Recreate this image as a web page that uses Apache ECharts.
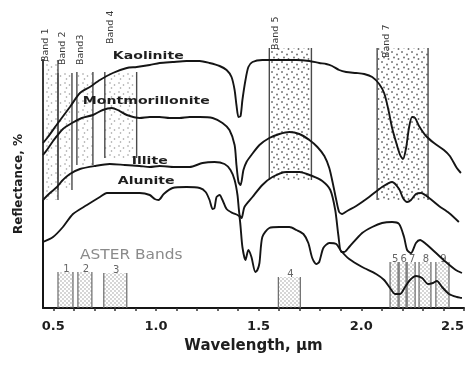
<!DOCTYPE html>
<html>
<head>
<meta charset="utf-8">
<script src="https://cdn.jsdelivr.net/npm/echarts@6/dist/echarts.min.js"></script>
<style>
  html, body { margin: 0; padding: 0; background: #fff; }
  #chart { width: 467px; height: 367px; }
</style>
</head>
<body>
<div id="chart"></div>
<script>
// Offset reflectance curves: [wavelength µm, relative reflectance]
const kaolinite = [
  [0.450,165],[0.474,171],[0.523,185],[0.581,201],[0.630,215],[0.678,221],[0.727,228],[0.790,235],
  [0.858,240],[0.906,241],[0.970,243],[1.018,245],[1.081,246],[1.149,247],[1.213,247],[1.261,245],
  [1.310,242],[1.344,238],[1.368,231],[1.383,218],[1.392,203],[1.402,191],[1.412,192],[1.421,208],
  [1.436,228],[1.450,241],[1.470,246],[1.518,248],[1.616,248],[1.684,248],[1.747,247],[1.795,245],
  [1.829,244],[1.858,242],[1.892,238],[1.926,236],[1.975,235],[2.014,234],[2.053,231],[2.087,224],
  [2.111,215],[2.130,200],[2.150,180],[2.169,166],[2.189,153],[2.203,149],[2.218,160],[2.232,180],
  [2.247,191],[2.262,190],[2.281,182],[2.315,172],[2.354,165],[2.402,158],[2.431,152],[2.465,140],
  [2.485,135]
];
const montmorillonite = [
  [0.450,153],[0.469,158],[0.499,167],[0.547,179],[0.591,185],[0.639,190],[0.693,193],[0.741,198],
  [0.785,200],[0.814,198],[0.858,193],[0.921,190],[0.970,191],[1.018,191],[1.067,190],[1.115,190],
  [1.164,191],[1.213,191],[1.276,190],[1.324,185],[1.358,178],[1.383,163],[1.392,143],[1.402,126],
  [1.412,123],[1.426,138],[1.441,146],[1.465,153],[1.504,163],[1.552,170],[1.601,174],[1.650,176],
  [1.698,174],[1.747,168],[1.786,161],[1.820,152],[1.844,140],[1.863,123],[1.878,108],[1.892,96],
  [1.907,94],[1.931,97],[1.975,102],[2.038,111],[2.101,121],[2.150,126],[2.184,119],[2.203,110],
  [2.223,106],[2.242,108],[2.266,114],[2.291,115],[2.330,110],[2.378,102],[2.427,95],[2.475,86]
];
const illite = [
  [0.450,108],[0.484,115],[0.518,121],[0.542,127],[0.581,134],[0.630,139],[0.702,142],[0.775,144],
  [0.848,143],[0.921,142],[0.970,141],[1.018,142],[1.091,141],[1.164,141],[1.227,145],[1.285,146],
  [1.334,144],[1.363,138],[1.383,128],[1.397,113],[1.407,93],[1.417,90],[1.431,101],[1.470,111],
  [1.518,123],[1.567,131],[1.635,136],[1.698,136],[1.761,132],[1.810,127],[1.849,118],[1.873,98],
  [1.888,73],[1.902,56],[1.917,56],[1.941,61],[2.004,75],[2.053,81],[2.101,85],[2.150,86],
  [2.184,84],[2.208,71],[2.223,58],[2.242,55],[2.266,65],[2.286,68],[2.315,64],[2.364,55],
  [2.412,46],[2.460,38],[2.490,35]
];
const alunite = [
  [0.450,66],[0.499,71],[0.547,81],[0.596,94],[0.664,103],[0.727,111],[0.761,115],[0.824,115],
  [0.921,115],[0.970,113],[0.994,109],[1.013,108],[1.038,114],[1.081,120],[1.149,121],[1.213,120],
  [1.242,116],[1.261,108],[1.276,99],[1.285,100],[1.295,111],[1.310,113],[1.324,108],[1.344,99],
  [1.373,95],[1.397,93],[1.407,91],[1.421,61],[1.436,48],[1.450,58],[1.465,51],[1.484,36],
  [1.494,38],[1.504,45],[1.518,71],[1.552,80],[1.601,81],[1.650,81],[1.684,78],[1.718,74],
  [1.742,65],[1.761,50],[1.781,44],[1.795,46],[1.815,60],[1.844,65],[1.878,64],[1.902,57],
  [1.941,49],[2.004,41],[2.072,34],[2.111,28],[2.140,20],[2.164,14],[2.189,14],[2.213,21],
  [2.237,28],[2.266,32],[2.296,30],[2.325,24],[2.349,25],[2.368,27],[2.393,21],[2.427,14],
  [2.465,11],[2.490,10]
];

// Curve names and where each name sits
const curveNames = ['Kaolinite', 'Montmorillonite', 'Illite', 'Alunite'];
const curveNamePos = [[0.790,252],[0.644,207],[0.882,147],[0.814,127]];

// Landsat TM bands: [start µm, end µm, top, bottom]
const tmBands = [
  [0.450,0.523,248,108],
  [0.523,0.591,235,118],
  [0.615,0.693,236,143],
  [0.751,0.906,236,150],
  [1.552,1.757,260,128],
  [2.077,2.325,260,108]
];
const tmBandNames = ['Band 1','Band 2','Band3','Band 4','Band 5','Band 7'];
const tmBandNamePos = [[0.460,246],[0.547,243],[0.635,243],[0.780,264],[1.582,258],[2.121,250]];

// ASTER bands: [start µm, end µm, top]
const asterBands = [
  [0.523,0.596,36],[0.620,0.688,36],[0.746,0.858,35],[1.596,1.703,31],
  [2.140,2.179,46],[2.184,2.218,46],[2.223,2.262,46],[2.281,2.339,46],[2.363,2.427,46]
];
const asterBandNames = ['1','2','3','4','5','6','7','8','9'];
const asterTitle = 'ASTER Bands';
const asterTitlePos = [[0.630,53]];

// Axis ticks and labels
const xTicks = [0.5,0.6,0.7,0.8,0.9,1.0,1.1,1.2,1.3,1.4,1.5,1.6,1.7,1.8,1.9,2.0,2.1,2.2,2.3,2.4,2.5];
const xLabels = [0.5,1.0,1.5,2.0,2.5];

// Stipple textures for the band shading
function stipple(size, dots, r, color) {
  const c = document.createElement('canvas');
  c.width = size; c.height = size;
  const g = c.getContext('2d');
  g.fillStyle = color;
  dots.forEach(d => { g.beginPath(); g.arc(d[0], d[1], r, 0, Math.PI * 2); g.fill(); });
  return c;
}
const tmDotsLight = stipple(9, [[2,2],[6.5,4],[3.5,7]], 0.8, '#9a9a9a');
const tmDots = stipple(10, [[2,2],[7,4.5],[4,7.5],[8.5,9]], 0.95, '#6e6e6e');
const asterDots = stipple(4, [[1,1],[3,3]], 0.65, '#8a8a8a');

const chart = echarts.init(document.getElementById('chart'), null, { renderer: 'canvas' });

const curveStyle = { color: '#151515', width: 1.9 };
function curve(name, data) {
  return {
    type: 'line', name, data, showSymbol: false, smooth: 0.25, clip: false,
    lineStyle: curveStyle, z: 5, silent: true
  };
}

chart.setOption({
  animation: false,
  backgroundColor: '#ffffff',
  grid: { left: 43, right: 2, top: 60, bottom: 59 },
  xAxis: {
    type: 'value', min: 0.45, max: 2.5,
    name: 'Wavelength, µm', nameLocation: 'middle', nameGap: 31,
    nameTextStyle: { fontFamily: 'DejaVu Sans', fontWeight: 'bold', fontSize: 15, color: '#1e1e1e' },
    axisLine: { show: true, lineStyle: { color: '#151515', width: 2 } },
    axisTick: { show: true, customValues: xTicks, length: 3, lineStyle: { color: '#333', width: 1.5 } },
    axisLabel: {
      customValues: xLabels, margin: 12, alignMaxLabel: 'right',
      formatter: v => Number(v).toFixed(1),
      fontFamily: 'DejaVu Sans', fontWeight: 'bold', fontSize: 13, color: '#1e1e1e'
    },
    splitLine: { show: false }
  },
  yAxis: {
    type: 'value', min: 0, max: 248,
    name: 'Reflectance, %', nameLocation: 'middle', nameGap: 18, nameRotate: 90,
    nameTextStyle: { fontFamily: 'DejaVu Sans', fontWeight: 'bold', fontSize: 12, color: '#1e1e1e' },
    axisLine: { show: true, lineStyle: { color: '#151515', width: 2 } },
    axisTick: { show: false },
    axisLabel: { show: false },
    splitLine: { show: false }
  },
  series: [
    {
      type: 'custom', name: 'TM bands', data: tmBands, z: 1, silent: true,
      renderItem: (params, api) => {
        const a = api.coord([api.value(0), api.value(2)]);
        const b = api.coord([api.value(1), api.value(3)]);
        const edge = { stroke: '#4a4a4a', lineWidth: 1.4 };
        const tex = params.dataIndex < 4 ? tmDotsLight : tmDots;
        return {
          type: 'group', children: [
            { type: 'rect', shape: { x: a[0], y: a[1], width: b[0] - a[0], height: b[1] - a[1] },
              style: { fill: { image: tex, repeat: 'repeat' } } },
            { type: 'line', shape: { x1: a[0], y1: a[1], x2: a[0], y2: b[1] }, style: edge },
            { type: 'line', shape: { x1: b[0], y1: a[1], x2: b[0], y2: b[1] }, style: edge }
          ]
        };
      }
    },
    {
      type: 'custom', name: 'TM band names', data: tmBandNamePos, z: 6, silent: true,
      renderItem: (params, api) => {
        const p = api.coord([api.value(0), api.value(1)]);
        return {
          type: 'text', x: p[0], y: p[1], rotation: Math.PI / 2,
          style: { text: tmBandNames[params.dataIndex], font: '9.5px "DejaVu Sans"', fill: '#3a3a3a',
                   align: 'left', verticalAlign: 'middle' }
        };
      }
    },
    {
      type: 'custom', name: 'ASTER bands', data: asterBands, z: 1, silent: true,
      renderItem: (params, api) => {
        const a = api.coord([api.value(0), api.value(2)]);
        const b = api.coord([api.value(1), 0]);
        const edge = { stroke: '#6a6a6a', lineWidth: 1.2 };
        return {
          type: 'group', children: [
            { type: 'rect', shape: { x: a[0], y: a[1], width: b[0] - a[0], height: b[1] - a[1] },
              style: { fill: { image: asterDots, repeat: 'repeat' } } },
            { type: 'line', shape: { x1: a[0], y1: a[1], x2: a[0], y2: b[1] }, style: edge },
            { type: 'line', shape: { x1: b[0], y1: a[1], x2: b[0], y2: b[1] }, style: edge },
            { type: 'text', x: (a[0] + b[0]) / 2 + 1, y: a[1] - 3,
              style: { text: asterBandNames[params.dataIndex], font: '10px "DejaVu Sans"', fill: '#666',
                       align: 'center', verticalAlign: 'middle' } }
          ]
        };
      }
    },
    {
      type: 'custom', name: 'ASTER title', data: asterTitlePos, z: 6, silent: true,
      renderItem: (params, api) => {
        const p = api.coord([api.value(0), api.value(1)]);
        return {
          type: 'text', x: p[0], y: p[1], scaleX: 1.1,
          style: { text: asterTitle, font: '14px "DejaVu Sans"', fill: '#8a8a8a',
                   align: 'left', verticalAlign: 'middle' }
        };
      }
    },
    curve('Kaolinite', kaolinite),
    curve('Montmorillonite', montmorillonite),
    curve('Illite', illite),
    curve('Alunite', alunite),
    {
      type: 'custom', name: 'Curve names', data: curveNamePos, z: 7, silent: true,
      renderItem: (params, api) => {
        const p = api.coord([api.value(0), api.value(1)]);
        return {
          type: 'text', x: p[0], y: p[1], scaleX: 1.28,
          style: { text: curveNames[params.dataIndex], font: 'bold 11px "DejaVu Sans"', fill: '#1e1e1e',
                   align: 'left', verticalAlign: 'middle' }
        };
      }
    }
  ]
});
</script>
</body>
</html>
